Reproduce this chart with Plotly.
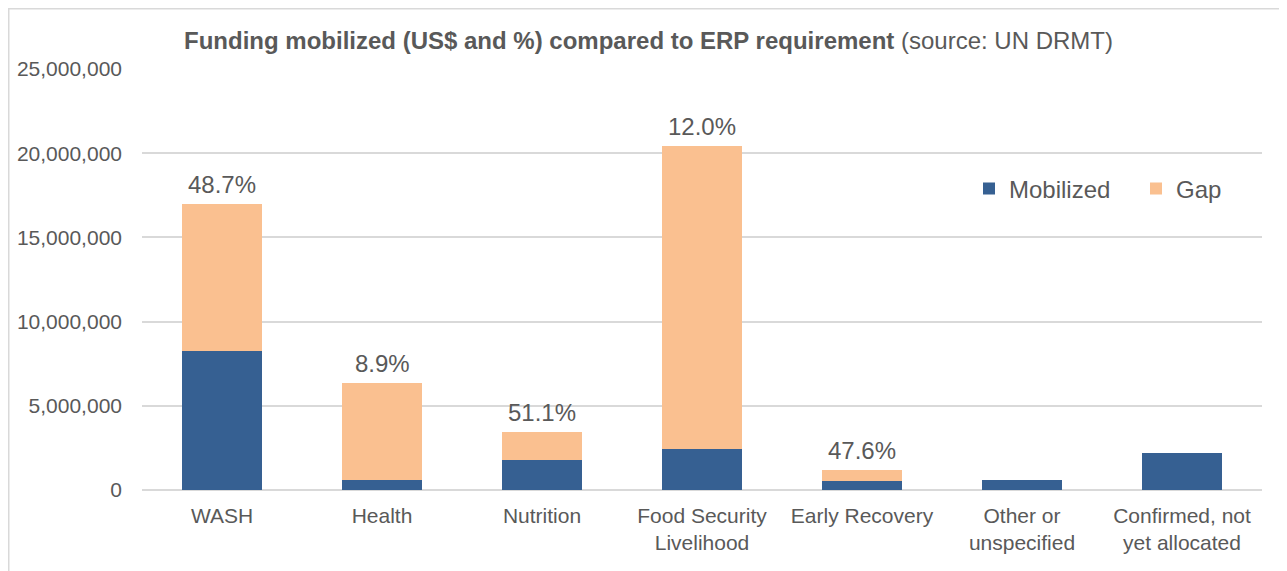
import plotly.graph_objects as go

categories = ["WASH", "Health", "Nutrition", "Food Security<br>Livelihood",
              "Early Recovery", "Other or<br>unspecified", "Confirmed, not<br>yet allocated"]
mobilized = [8280000, 568000, 1760000, 2450000, 557000, 600000, 2190000]
gap = [8720000, 5810000, 1690000, 17950000, 613000, None, None]
pct_labels = ["48.7%", "8.9%", "51.1%", "12.0%", "47.6%", "", ""]
y_ticks = [0, 5000000, 10000000, 15000000, 20000000, 25000000]

TXT = "#595959"
GRID = "#D9D9D9"
FONT = "Liberation Sans, Arial, sans-serif"

fig = go.Figure()
fig.add_trace(go.Bar(x=categories, y=mobilized, name="Mobilized",
                     marker=dict(color="#366092", line=dict(width=0))))
fig.add_trace(go.Bar(x=categories, y=gap, name="Gap",
                     marker=dict(color="#FAC090", line=dict(width=0))))

for c, m, g, t in zip(categories, mobilized, gap, pct_labels):
    if t:
        fig.add_annotation(x=c, y=m + (g or 0), text=t, showarrow=False,
                           yanchor="bottom", yshift=4,
                           font=dict(size=24, color=TXT, family=FONT))

# page body adds an 8px offset
OFF = 8
W, H = 1287, 571
L, R, T, B = 142 - OFF, 25 + OFF, 69 - OFF, 81 + OFF
pw, ph = W - L - R, H - T - B
def px_x(p):
    return (p - OFF - L) / pw
def px_y(p):
    return (H - B - (p - OFF)) / ph

fig.add_shape(type="rect", xref="paper", yref="paper",
              x0=px_x(OFF + 0.75), x1=px_x(1300), y0=px_y(600), y1=px_y(OFF + 0.75),
              line=dict(color=GRID, width=1.5), fillcolor="rgba(0,0,0,0)", layer="below")

fig.update_layout(
    width=W, height=H,
    margin=dict(l=L, r=R, t=T, b=B, autoexpand=False),
    barmode="stack", bargap=0.5,
    paper_bgcolor="white", plot_bgcolor="white",
    font=dict(family=FONT, color=TXT, size=21),
    title=dict(text="<b>Funding mobilized (US$ and %) compared to ERP requirement</b> (source: UN DRMT)",
               x=(648.5 - OFF) / W, xref="container", xanchor="center",
               y=1 - (41 - OFF) / H, yref="container", yanchor="middle",
               font=dict(size=24, color=TXT, family=FONT)),
    legend=dict(orientation="h", x=px_x(969), y=px_y(189), xanchor="left", yanchor="middle",
                font=dict(size=24, color=TXT), bgcolor="rgba(0,0,0,0)",
                entrywidth=122, entrywidthmode="pixels", traceorder="normal"),
    xaxis=dict(showgrid=False, showline=False, ticks="", tickfont=dict(size=21, color=TXT),
               tickangle=0, automargin=False, ticklabelstandoff=11),
    yaxis=dict(range=[0, 25000000], tickvals=y_ticks, tickformat=",", showgrid=True,
               gridcolor=GRID, gridwidth=1.5, zeroline=True, zerolinecolor=GRID, zerolinewidth=1.5,
               showline=False, ticks="", tickfont=dict(size=21, color=TXT),
               automargin=False, ticklabelstandoff=19),
)

fig.write_html("out.html")
